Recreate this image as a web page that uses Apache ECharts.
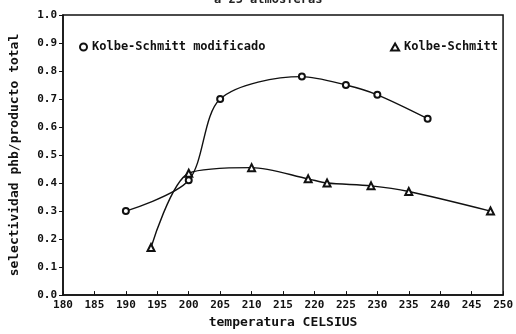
<!DOCTYPE html>
<html>
<head>
<meta charset="utf-8">
<script src="https://cdn.jsdelivr.net/npm/echarts@6/dist/echarts.min.js"></script>
<style>
  html, body { margin: 0; padding: 0; background: #fff; }
  #chart { width: 516px; height: 334px; }
</style>
</head>
<body>
<div id="chart"></div>
<script>
  // temperatura (C) y selectividad
  var modTemp = [190, 200, 205, 218, 225, 230, 238];
  var modSel = [0.30, 0.41, 0.70, 0.78, 0.75, 0.715, 0.63];
  var ksTemp = [194, 200, 210, 219, 222, 229, 235, 248];
  var ksSel = [0.17, 0.435, 0.455, 0.415, 0.40, 0.39, 0.37, 0.30];

  var fuente = 'DejaVu Sans Mono';

  function pares(xs, ys) {
    return xs.map(function (x, i) { return [x, ys[i]]; });
  }

  var myChart = echarts.init(document.getElementById('chart'));
  var option = {
    backgroundColor: '#fff',
    animation: false,
    textStyle: { fontFamily: fuente, color: '#111' },
    grid: {
      left: 58, right: 11, top: 15, bottom: 37,
      show: true, borderColor: '#111', borderWidth: 1.5
    },
    graphic: [{
      type: 'text', left: 214, top: -6,
      style: { text: 'a 25 atmosferas', fontFamily: fuente, fontSize: 12, fontWeight: 'bold', fill: '#222' }
    }],
    legend: [{
      data: [{ name: 'Kolbe-Schmitt modificado', icon: 'emptyCircle' }],
      left: 74, top: 36, itemWidth: 7, itemHeight: 7, itemGap: 5,
      textStyle: { fontFamily: fuente, fontSize: 12, fontWeight: 'bold', color: '#111' }
    }, {
      data: [{ name: 'Kolbe-Schmitt', icon: 'emptyTriangle' }],
      right: 13, top: 36, itemWidth: 8, itemHeight: 7, itemGap: 5,
      textStyle: { fontFamily: fuente, fontSize: 12, fontWeight: 'bold', color: '#111' }
    }],
    xAxis: {
      type: 'value', min: 180, max: 250, interval: 5,
      name: 'temperatura CELSIUS', nameLocation: 'middle', nameGap: 19,
      nameTextStyle: { fontFamily: fuente, fontSize: 13, fontWeight: 'bold', color: '#111' },
      axisLine: { lineStyle: { color: '#111', width: 1.5 } },
      axisTick: { inside: true, length: 4, lineStyle: { color: '#111' } },
      axisLabel: { fontFamily: fuente, fontSize: 11, fontWeight: 'bold', color: '#111', margin: 5 },
      splitLine: { show: false }
    },
    yAxis: {
      type: 'value', min: 0, max: 1, interval: 0.1,
      name: 'selectividad phb/producto total', nameLocation: 'middle', nameGap: 42,
      nameTextStyle: { fontFamily: fuente, fontSize: 13, fontWeight: 'bold', color: '#111' },
      axisLine: { show: true, lineStyle: { color: '#111', width: 1.5 } },
      axisTick: { show: true, length: 4, lineStyle: { color: '#111' } },
      axisLabel: {
        fontFamily: fuente, fontSize: 11, fontWeight: 'bold', color: '#111', margin: 6,
        formatter: function (v) { return v.toFixed(1); }
      },
      splitLine: { show: false }
    },
    series: [{
      name: 'Kolbe-Schmitt modificado',
      type: 'line',
      data: pares(modTemp, modSel),
      smooth: 0.3,
      symbol: 'emptyCircle', symbolSize: 6,
      lineStyle: { color: '#111', width: 1.4 },
      itemStyle: { color: '#111', borderWidth: 1.4 }
    }, {
      name: 'Kolbe-Schmitt',
      type: 'line',
      data: pares(ksTemp, ksSel),
      smooth: 0.3,
      symbol: 'emptyTriangle', symbolSize: 7,
      lineStyle: { color: '#111', width: 1.4 },
      itemStyle: { color: '#111', borderWidth: 1.4 }
    }]
  };
  myChart.setOption(option);
</script>
</body>
</html>
